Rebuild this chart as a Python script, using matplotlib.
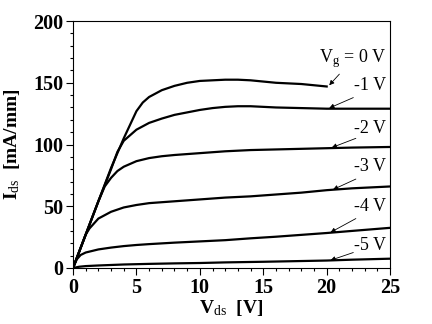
#!/usr/bin/env python

"""Output characteristics I_ds vs V_ds for several gate voltages."""

import matplotlib
matplotlib.use("Agg")
import matplotlib.pyplot as plt

plt.rcParams["font.family"] = ["Liberation Serif", "DejaVu Serif"]
plt.rcParams["mathtext.fontset"] = "custom"
plt.rcParams["mathtext.rm"] = "Liberation Serif"
plt.rcParams["mathtext.it"] = "Liberation Serif:italic"
plt.rcParams["mathtext.bf"] = "Liberation Serif:bold"

# V_ds [V] and I_ds [mA/mm] for each gate voltage
vd_0 = [0, 1, 2, 3, 4, 4.5, 5, 5.5, 6, 7, 8, 9, 10, 11, 12, 13, 14, 15, 16, 17, 18, 19, 20]
id_0 = [0, 27, 54, 81, 105, 116, 127, 134, 138.5, 144, 147.5, 150, 151.5, 152, 152.5, 152.5,
        152, 151, 150, 149.5, 149, 148, 147]

vd_1 = [0, 1, 2, 3, 3.5, 4, 5, 6, 7, 8, 9, 10, 11, 12, 13, 14, 15, 16, 18, 20, 25]
id_1 = [0, 27, 54, 80, 94, 103, 112, 117.5, 121, 124, 126, 128, 129.5, 130.5, 131, 131,
        130.5, 130, 129.5, 129, 129]

vd_2 = [0, 1, 2, 2.5, 3, 3.5, 4, 5, 6, 7, 8, 10, 12, 14, 16, 18, 20, 22, 25]
id_2 = [0, 27, 54, 66, 73, 78.5, 82, 86.5, 89, 90.5, 91.5, 93, 94.5, 95.5, 96, 96.5, 97,
        97.5, 98]

vd_3 = [0, 1, 1.3, 2, 3, 4, 5, 6, 8, 10, 12, 14, 16, 18, 20, 22, 25]
id_3 = [0, 27, 32, 40, 45.5, 49, 51, 52.5, 54, 55.5, 57, 58, 59.5, 61, 63, 64.5, 66]

vd_4 = [0, 0.3, 0.6, 1, 2, 3, 4, 5, 6, 8, 10, 12, 14, 16, 18, 20, 22, 25]
id_4 = [0, 7, 10.5, 12.5, 15, 16.5, 17.7, 18.6, 19.3, 20.5, 21.5, 22.5, 24, 25.3, 26.8,
        28.3, 30, 32.5]

vd_5 = [0, 0.5, 1, 2, 4, 6, 8, 10, 12, 15, 18, 20, 22, 25]
id_5 = [0, 1, 1.5, 2, 2.8, 3.3, 3.7, 4, 4.5, 5, 5.6, 6, 6.7, 7.5]

curves = [(vd_0, id_0), (vd_1, id_1), (vd_2, id_2), (vd_3, id_3), (vd_4, id_4), (vd_5, id_5)]

labels = [r"V$_{\rm g}$ = 0 V", "-1 V", "-2 V", "-3 V", "-4 V", "-5 V"]
label_y = [170, 148, 113, 82, 49.5, 18.5]
arrow_tail = [(21.0, 157), (22.1, 138), (22.3, 105), (22.3, 72), (22.3, 40), (22.1, 12.5)]
arrow_tip = [(20.2, 148), (20.2, 129.5), (20.4, 97.5), (20.5, 63.5), (20.3, 28.8), (20.3, 6.2)]

fig = plt.figure(figsize=(4.32, 3.24), dpi=100)
ax = fig.add_axes([0.169, 0.173, 0.734, 0.762])

for vd, idd in curves:
    ax.plot(vd, idd, color="black", lw=1.6, solid_joinstyle="round")

for lab, ly, tail, tip in zip(labels, label_y, arrow_tail, arrow_tip):
    ax.text(24.7, ly, lab, fontsize=13, ha="right", va="center")
    ax.annotate("", xy=tip, xytext=tail,
                arrowprops=dict(arrowstyle="-|>", lw=0.6, color="black",
                                mutation_scale=7, shrinkA=0, shrinkB=0))

ax.set_xlim(0, 25)
ax.set_ylim(0, 200)
ax.set_xticks([0, 5, 10, 15, 20, 25])
ax.set_yticks([0, 50, 100, 150, 200])
ax.set_xticks(range(0, 26), minor=True)
ax.set_yticks(range(0, 201, 10), minor=True)
ax.tick_params(which="major", direction="out", length=5, width=0.8, labelsize=14.5, pad=2)
ax.tick_params(which="minor", direction="out", length=2.5, width=0.8)
for lab in ax.get_xticklabels() + ax.get_yticklabels():
    lab.set_fontweight("bold")
for sp in ax.spines.values():
    sp.set_linewidth(0.8)

ax.set_xlabel(r"V$_{\rm ds}$  [V]", fontsize=14, fontweight="bold", labelpad=0)
ax.set_ylabel(r"I$_{\rm ds}$  [mA/mm]", fontsize=14, fontweight="bold", labelpad=8)

fig.savefig("out.png", dpi=100)
